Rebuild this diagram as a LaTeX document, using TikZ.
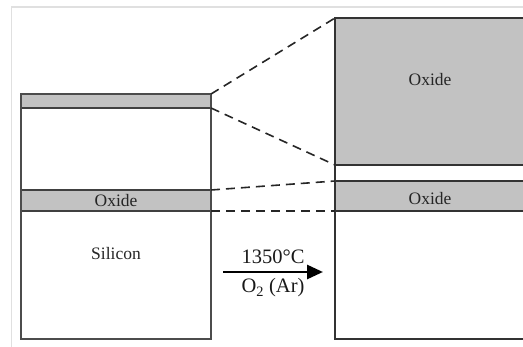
\documentclass[tikz,border=0pt]{standalone}
\usepackage{fontspec}
\setmainfont{Liberation Serif}
\usetikzlibrary{arrows.meta}
\begin{document}
\begin{tikzpicture}[x=1pt,y=-1pt,
  oxide/.style={fill=black!24,draw=black!75,line width=1.4pt},
  wafer/.style={draw=black!70,line width=1.4pt},
  guide/.style={draw=black!85,dash pattern=on 9pt off 6pt,line width=1.6pt},
  lbl/.style={font=\fontsize{17.5}{18}\selectfont,text=black!85},
  cond/.style={font=\fontsize{20.5}{22}\selectfont,text=black!90}]
\useasboundingbox (0,0) rectangle (523,347);
% outer faint frame
\draw[black!12,line width=1.2pt] (523,7) -- (11.5,7) -- (11.5,347);
% left wafer
\coordinate (LTR) at (211,94);
\coordinate (LA) at (211,108);
\coordinate (LB) at (211,190);
\coordinate (LC) at (211,211);
\filldraw[oxide] (21,94) rectangle (211,108);
\filldraw[oxide] (21,190) rectangle (211,211);
\draw[wafer] (21,94) rectangle (211,339);
\node[lbl] (ox1) at (116,201) {Oxide};
\node[lbl] (si) at (116,254) {Silicon};
% right wafer
\coordinate (RT) at (335,18);
\coordinate (RA) at (335,165);
\coordinate (RB) at (335,181);
\coordinate (RC) at (335,211);
\fill[black!24] (335,18) rectangle (523,165);
\fill[black!24] (335,181) rectangle (523,211);
\draw[wafer,draw=black!80] (523,18) -- (335,18) -- (335,339) -- (523,339);
\draw[wafer,draw=black!80] (335,165) -- (523,165);
\draw[wafer,draw=black!80] (335,181) -- (523,181);
\draw[wafer,draw=black!80] (335,211) -- (523,211);
\node[lbl] (ox2) at (430,80) {Oxide};
\node[lbl] (ox3) at (430,199) {Oxide};
% guide lines
\draw[guide] (LTR) -- (RT);
\draw[guide] (LA) -- (RA);
\draw[guide] (LB) -- (RB);
\draw[guide] (LC) -- (RC);
% process arrow
\coordinate (a0) at (223,272);
\coordinate (a1) at (323,272);
\draw[line width=2.8pt,-{Triangle[length=16pt,width=14pt]}] (a0) -- (a1);
\node[cond] (temp) at (273,257) {1350°C};
\node[cond] (gas) at (273,288) {O\textsubscript{2} (Ar)};
\end{tikzpicture}
\end{document}
